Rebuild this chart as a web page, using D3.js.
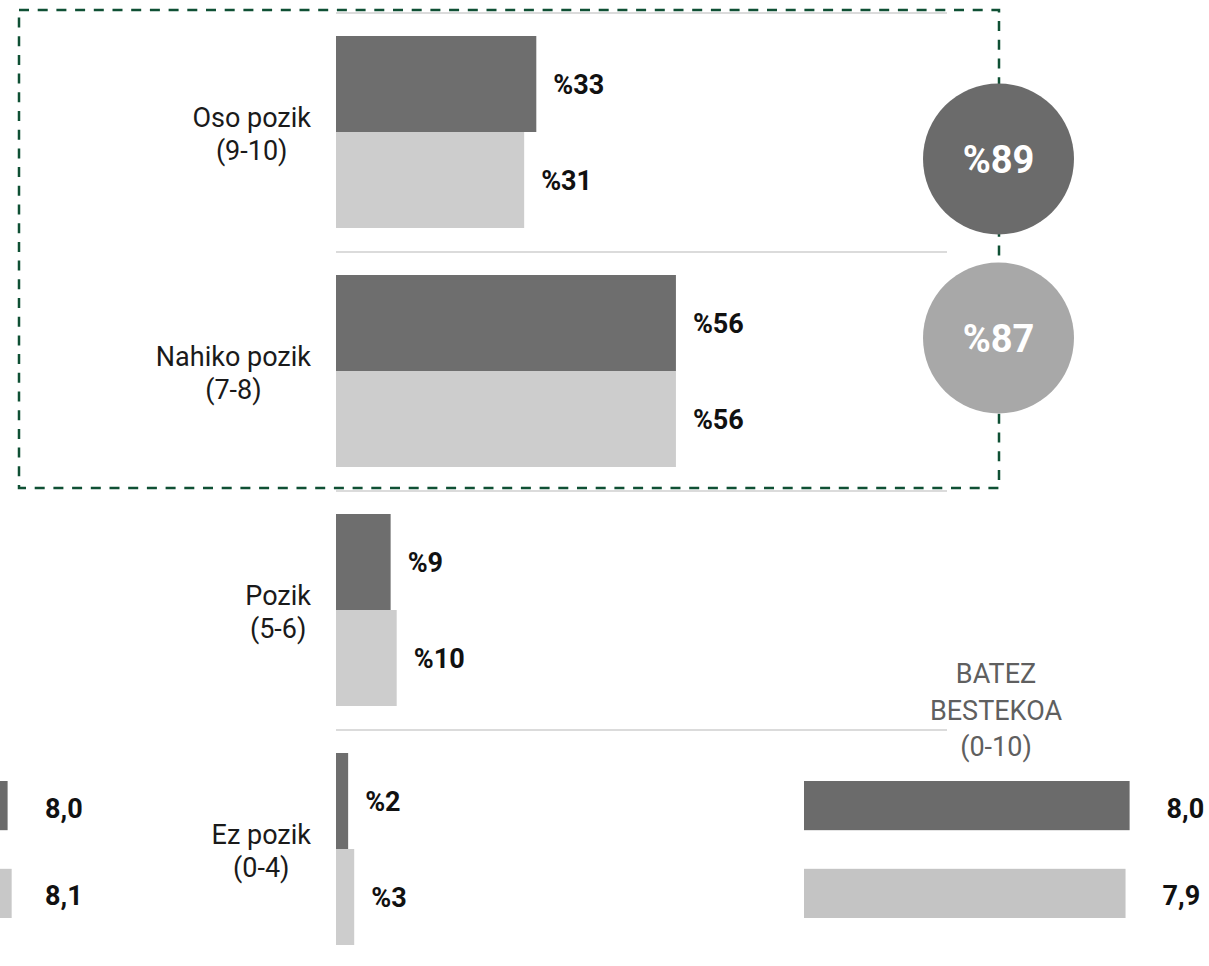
<!DOCTYPE html>
<html>
<head>
<meta charset="utf-8">
<script src="https://cdn.jsdelivr.net/npm/d3@7"></script>
<style>
  html, body { margin: 0; padding: 0; background: #fff; }
  svg { display: block; }
  text { font-family: Roboto, "Noto Sans", sans-serif; }
</style>
</head>
<body>
<svg id="chart" width="1209" height="966"></svg>
<script>
// ---- data ----
const categories = ["Oso pozik|(9-10)", "Nahiko pozik|(7-8)", "Pozik|(5-6)", "Ez pozik|(0-4)"];
const seriesKeys = ["dark", "light"];
const valuesDark = [33, 56, 9, 2];
const valuesLight = [31, 56, 10, 3];
const circleValues = [89, 87];
const avgRight = [8.0, 7.9];
const avgLeft = [8.0, 8.1];
const avgTitle = ["BATEZ", "BESTEKOA", "(0-10)"];

// ---- styles ----
const colDark = "#6e6e6e", colLight = "#cdcdcd";
const circleCols = ["#6b6b6b", "#a8a8a8"];
const avgCols = ["#6b6b6b", "#c4c4c4"];

const svg = d3.select("#chart");

// scales
const x = d3.scaleLinear().domain([0, 100]).range([336, 943]);
const y = d3.scaleBand().domain(categories).range([13, 969]);
const yInner = d3.scaleBand().domain(seriesKeys).range([23, 215]);
const xAvgR = d3.scaleLinear().domain([0, 10]).range([804, 1211]);
const xAvgL = d3.scaleLinear().domain([0, 10]).range([-318, 89]);
const yAvg = d3.scaleBand().domain(seriesKeys).range([781, 918]).paddingInner(0.44);

const rows = categories.map((c, i) => ({cat: c, dark: valuesDark[i], light: valuesLight[i]}));

// separators
svg.append("g").selectAll("line").data(categories).join("line")
  .attr("x1", 336).attr("x2", 947)
  .attr("y1", d => y(d)).attr("y2", d => y(d))
  .attr("stroke", "#cfcfcf").attr("stroke-width", 1.5);

// dashed highlight box
svg.append("rect")
  .attr("x", 19).attr("y", 10)
  .attr("width", 999 - 19).attr("height", 488 - 10)
  .attr("fill", "none").attr("stroke", "#0f5034")
  .attr("stroke-width", 2.5).attr("stroke-dasharray", "10,8.7");

// bars
const g = svg.append("g");
rows.forEach(r => {
  seriesKeys.forEach(k => {
    const y0 = y(r.cat) + yInner(k);
    g.append("rect")
      .attr("x", x(0)).attr("y", y0)
      .attr("width", x(r[k]) - x(0)).attr("height", yInner.bandwidth())
      .attr("fill", k === "dark" ? colDark : colLight);
    g.append("text")
      .attr("x", x(r[k]) + 17).attr("y", y0 + yInner.bandwidth() / 2 + 1)
      .attr("dominant-baseline", "central")
      .attr("font-size", 27).attr("font-weight", 700).attr("fill", "#111")
      .text("%" + r[k]);
  });
});

// category labels (lines centered, block right aligned at 311)
rows.forEach(r => {
  const lines = r.cat.split("|");
  const cy = y(r.cat) + y.bandwidth() / 2;
  const tg = svg.append("g");
  const texts = lines.map((ln, j) => tg.append("text")
    .attr("y", cy - 6 + j * 33)
    .attr("font-size", 27).attr("fill", "#1a1a1a")
    .attr("text-anchor", "middle").text(ln));
  const maxW = d3.max(texts, t => t.node().getComputedTextLength());
  texts.forEach(t => t.attr("x", 311 - maxW / 2));
});

// circles
const cg = svg.append("g");
circleValues.forEach((v, i) => {
  const cy = i === 0 ? 159 : 338;
  cg.append("circle").attr("cx", 998.5).attr("cy", cy).attr("r", 75.5).attr("fill", circleCols[i]);
  cg.append("text").attr("x", 998.5).attr("y", cy + 1)
    .attr("text-anchor", "middle").attr("dominant-baseline", "central")
    .attr("font-family", "'Open Sans', sans-serif")
    .attr("font-size", 38).attr("font-weight", 700).attr("fill", "#fff")
    .text("%" + v);
});

// average title
avgTitle.forEach((t, j) => {
  svg.append("text").attr("x", 996).attr("y", 683 + j * 36.5)
    .attr("text-anchor", "middle").attr("font-size", 27).attr("fill", "#5f5f5f")
    .text(t);
});

const fmt = v => v.toFixed(1).replace(".", ",");
// right avg bars
seriesKeys.forEach((k, i) => {
  svg.append("rect").attr("x", xAvgR(0)).attr("y", yAvg(k))
    .attr("width", xAvgR(avgRight[i]) - xAvgR(0)).attr("height", yAvg.bandwidth())
    .attr("fill", avgCols[i]);
  svg.append("text").attr("x", xAvgR(avgRight[i]) + 37).attr("y", yAvg(k) + yAvg.bandwidth() / 2 + 3)
    .attr("dominant-baseline", "central").attr("font-size", 27).attr("font-weight", 700).attr("fill", "#111")
    .text(fmt(avgRight[i]));
});
// left (cropped) avg bars
seriesKeys.forEach((k, i) => {
  svg.append("rect").attr("x", xAvgL(0)).attr("y", yAvg(k))
    .attr("width", xAvgL(avgLeft[i]) - xAvgL(0)).attr("height", yAvg.bandwidth())
    .attr("fill", i === 0 ? "#6b6b6b" : "#c8c8c8");
  svg.append("text").attr("x", 45).attr("y", yAvg(k) + yAvg.bandwidth() / 2 + 3)
    .attr("dominant-baseline", "central").attr("font-size", 27).attr("font-weight", 700).attr("fill", "#111")
    .text(fmt(avgLeft[i]));
});
</script>
</body>
</html>
